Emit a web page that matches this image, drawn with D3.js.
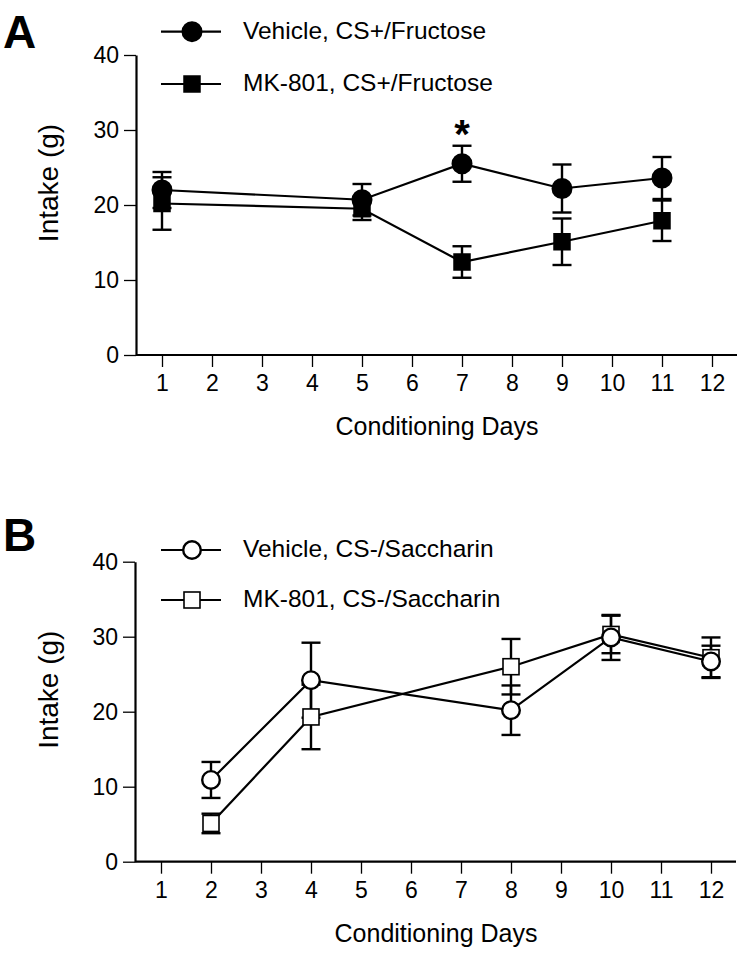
<!DOCTYPE html>
<html><head><meta charset="utf-8">
<script src="https://cdn.jsdelivr.net/npm/d3@7"></script>
<style>
html,body{margin:0;padding:0;background:#fff;}
svg text{font-family:"Liberation Sans",Arial,Helvetica,sans-serif;fill:#000;}
</style></head>
<body>
<svg id="chart" width="746" height="954"></svg>
<script>
// ---------- data ----------
const daysTicks = [1,2,3,4,5,6,7,8,9,10,11,12];
const yTicks = [0,10,20,30,40];

const daysA = [1,5,7,9,11];
const vehicleA = [22.0,20.7,25.5,22.2,23.6];
const vehicleA_sem = [2.4,2.1,2.4,3.2,2.8];
const mkA = [20.2,19.5,12.4,15.1,17.9];
const mkA_sem = [3.5,1.5,2.1,3.1,2.7];
const legendA = ["Vehicle, CS+/Fructose","MK-801, CS+/Fructose"];
const sigDaysA = [7];
const sigY = [30.5];

const daysB = [2,4,8,10,12];
const vehicleB = [10.9,24.2,20.2,29.9,26.7];
const vehicleB_sem = [2.4,5.0,3.3,3.0,2.1];
const mkB = [5.1,19.3,26.0,30.3,27.2];
const mkB_sem = [1.3,4.3,3.7,2.5,2.7];
const legendB = ["Vehicle, CS-/Saccharin","MK-801, CS-/Saccharin"];

const xTitle = "Conditioning Days";
const yTitle = "Intake (g)";

const svg = d3.select("#chart");

function panel(cfg){
  const g = svg.append("g");
  const x = d3.scaleLinear().domain([0.5,12.5]).range([cfg.x0+1, cfg.x0+601]);
  const y = d3.scaleLinear().domain([0,40]).range([cfg.yBottom, cfg.yBottom-300]);

  // y axis
  const ya = g.append("g").attr("transform",`translate(${cfg.x0},0)`)
    .call(d3.axisLeft(y).tickValues(yTicks).tickSize(12).tickSizeOuter(0).tickPadding(5));
  ya.select(".domain").attr("stroke-width",2.2);
  ya.selectAll(".tick line").attr("stroke-width",1.3);
  ya.selectAll(".tick text").attr("font-size",23).attr("font-family",null);

  // x axis
  const xa = g.append("g").attr("transform",`translate(0,${cfg.yBottom})`)
    .call(d3.axisBottom(x).tickValues(daysTicks).tickSize(12).tickSizeOuter(0).tickPadding(8));
  xa.select(".domain").attr("stroke-width",2.2).attr("d",`M${cfg.x0},0H${x.range()[1]}`);
  xa.selectAll(".tick line").attr("stroke-width",1.3);
  xa.selectAll(".tick text").attr("font-size",23).attr("font-family",null);

  // titles
  g.append("text").attr("x",(x(1)+x(12))/2).attr("y",cfg.yBottom+80)
    .attr("text-anchor","middle").attr("font-size",25).text(xTitle);
  g.append("text").attr("transform",`translate(58,${cfg.yBottom-172}) rotate(-90)`)
    .attr("text-anchor","middle").attr("font-size",28).text(yTitle);

  // panel letter
  g.append("text").attr("x",3).attr("y",cfg.letterY).attr("font-size",46)
    .attr("font-weight","bold").text(cfg.letter);

  const line = d3.line().x(d=>x(d[0])).y(d=>y(d[1]));
  const series = cfg.series;
  // lines
  series.forEach(s=>{
    g.append("path").datum(s.days.map((d,i)=>[d,s.vals[i]]))
      .attr("d",line).attr("fill","none").attr("stroke","#000").attr("stroke-width",2.2);
  });
  // error bars
  series.forEach(s=>{
    s.days.forEach((d,i)=>{
      const cx = x(d), top = y(s.vals[i]+s.sem[i]), bot = y(s.vals[i]-s.sem[i]);
      const eb = g.append("g").attr("stroke","#000").attr("stroke-width",2.4);
      eb.append("line").attr("x1",cx).attr("x2",cx).attr("y1",top).attr("y2",bot);
      eb.append("line").attr("x1",cx-9.5).attr("x2",cx+9.5).attr("y1",top).attr("y2",top);
      eb.append("line").attr("x1",cx-9.5).attr("x2",cx+9.5).attr("y1",bot).attr("y2",bot);
    });
  });
  // markers
  function marker(sel, type, fill, cx, cy){
    if(type==="circle"){
      sel.append("circle").attr("cx",cx).attr("cy",cy).attr("r",fill==="#000"?9.3:8.8)
        .attr("fill",fill).attr("stroke","#000").attr("stroke-width",2.4);
    } else {
      const s = fill==="#000"?17.5:16;
      sel.append("rect").attr("x",cx-s/2).attr("y",cy-s/2).attr("width",s).attr("height",s)
        .attr("fill",fill).attr("stroke","#000").attr("stroke-width",fill==="#000"?0:1.6);
    }
  }
  series.forEach(s=>{
    s.days.forEach((d,i)=>marker(g, s.type, s.fill, x(d), y(s.vals[i])));
  });

  // legend
  cfg.legend.forEach((lab,i)=>{
    const ly = cfg.legendY[i];
    const s = series.find(z=>z.legendIdx===i);
    g.append("line").attr("x1",161).attr("x2",221).attr("y1",ly).attr("y2",ly)
      .attr("stroke","#000").attr("stroke-width",2.2);
    marker(g, s.type, s.fill, 192, ly);
    g.append("text").attr("x",243).attr("y",ly+7).attr("font-size",24.5).text(lab);
  });

  // significance
  if(cfg.sig){
    cfg.sig.days.forEach((d,i)=>{
      g.append("text").attr("x",x(d)).attr("y",y(cfg.sig.y[i])+22).attr("text-anchor","middle")
        .attr("font-size",40).attr("font-weight","bold").text("*");
    });
  }
}

panel({
  x0:136, yBottom:355, letter:"A", letterY:48,
  legend:legendA, legendY:[31.7,84],
  series:[
    {days:daysA, vals:mkA, sem:mkA_sem, type:"square", fill:"#000", legendIdx:1},
    {days:daysA, vals:vehicleA, sem:vehicleA_sem, type:"circle", fill:"#000", legendIdx:0}
  ],
  sig:{days:sigDaysA, y:sigY}
});
panel({
  x0:135, yBottom:861.7, letter:"B", letterY:551,
  legend:legendB, legendY:[550,600],
  series:[
    {days:daysB, vals:mkB, sem:mkB_sem, type:"square", fill:"#fff", legendIdx:1},
    {days:daysB, vals:vehicleB, sem:vehicleB_sem, type:"circle", fill:"#fff", legendIdx:0}
  ]
});
</script>
</body></html>
